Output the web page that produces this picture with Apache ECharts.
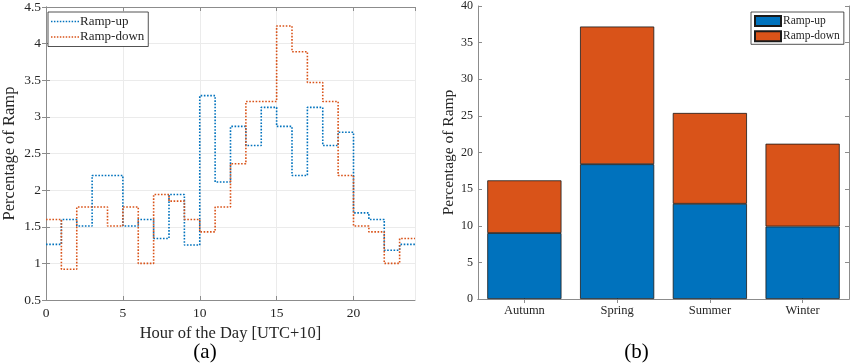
<!DOCTYPE html>
<html>
<head>
<meta charset="utf-8">
<script src="https://cdn.jsdelivr.net/npm/echarts@6/dist/echarts.min.js"></script>
<style>
html,body{margin:0;padding:0;background:#fff;}
#chart{width:850px;height:364px;}
</style>
</head>
<body>
<div id="chart"></div>
<script>
// ---- Data: panel (a) hourly ramp percentages (hours 0..23) ----
const hours = [0,1,2,3,4,5,6,7,8,9,10,11,12,13,14,15,16,17,18,19,20,21,22,23];
const rampUpHourly = [1.26,1.60,1.51,2.20,2.20,1.51,1.60,1.34,1.94,1.25,3.29,2.11,2.87,2.61,3.13,2.87,2.20,3.13,2.61,2.79,1.69,1.60,1.18,1.26];
const rampDownHourly = [1.60,0.92,1.77,1.77,1.51,1.77,1.00,1.94,1.85,1.60,1.43,1.77,2.36,3.21,3.21,4.24,3.89,3.47,3.21,2.20,1.51,1.43,1.00,1.34];
const xTicks = [0,5,10,15,20];
const yTicksA = [0.5,1,1.5,2,2.5,3,3.5,4,4.5];

// ---- Data: panel (b) seasonal ramp percentages ----
const seasons = ['Autumn','Spring','Summer','Winter'];
const rampUpSeason = [9.0,18.4,13.0,9.9];
const rampDownSeason = [7.2,18.8,12.4,11.3];
const yTicksB = [0,5,10,15,20,25,30,35,40];

const BLUE = '#0072BD', RED = '#D95319';
const SERIF = '"Liberation Serif", "DejaVu Serif", serif';
const AXC = '#8c8c8c', TXT = '#262626';

// stairs: each hour value holds until the next hour; last value extended to hour 24
function stairs(vals){
  const d = hours.map((h,i)=>[h, vals[i]]);
  d.push([hours[hours.length-1]+1, vals[vals.length-1]]);
  return d;
}

// dotted-line legend icon
let dotPath = 'path://';
for (let i = 0; i < 10; i++) { dotPath += 'M' + (i*3) + ',0h1.5v1.5h-1.5z'; }

const chart = echarts.init(document.getElementById('chart'), null, {renderer:'canvas'});

const gridA = {left:41, top:6, width:374, height:294};
const gridB = {left:478, top:6, width:371, height:293};

const option = {
  animation:false,
  backgroundColor:'#fff',
  grid:[Object.assign({containLabel:false}, gridA), Object.assign({containLabel:false}, gridB)],
  xAxis:[
    { type:'value', gridIndex:0, min:0, max:24, interval:5, position:'bottom',
      axisLine:{show:true, lineStyle:{color:AXC, width:1}},
      axisTick:{show:true, inside:true, length:4, lineStyle:{color:AXC}},
      axisLabel:{show:true, color:TXT, fontFamily:SERIF, fontSize:13.5, margin:6, showMaxLabel:false,
        formatter:v=> xTicks.indexOf(v)>=0 ? String(v) : ''},
      splitLine:{show:true, lineStyle:{color:'#ebebeb', width:1}},
      name:'Hour of the Day [UTC+10]', nameLocation:'middle', nameGap:24,
      nameTextStyle:{color:TXT, fontFamily:SERIF, fontSize:16.5}
    },
    { type:'value', gridIndex:0, min:0, max:24, interval:5, position:'top',
      axisLine:{show:true, lineStyle:{color:AXC, width:1}},
      axisTick:{show:true, inside:true, length:4, lineStyle:{color:AXC}},
      axisLabel:{show:false}, splitLine:{show:false}
    },
    { type:'category', gridIndex:1, data:seasons, position:'bottom',
      axisLine:{show:true, lineStyle:{color:AXC, width:1}},
      axisTick:{show:true, inside:true, length:4, alignWithLabel:true, lineStyle:{color:AXC}},
      axisLabel:{color:TXT, fontFamily:SERIF, fontSize:12.5, margin:5},
      splitLine:{show:false}
    },
    { type:'category', gridIndex:1, data:seasons, position:'top',
      axisLine:{show:true, lineStyle:{color:AXC, width:1}},
      axisTick:{show:true, inside:true, length:4, alignWithLabel:true, lineStyle:{color:AXC}},
      axisLabel:{show:false}, splitLine:{show:false}
    }
  ],
  yAxis:[
    { type:'value', gridIndex:0, min:0.5, max:4.5, interval:0.5, position:'left',
      axisLine:{show:true, lineStyle:{color:AXC, width:1}},
      axisTick:{show:true, inside:true, length:4, lineStyle:{color:AXC}},
      axisLabel:{color:TXT, fontFamily:SERIF, fontSize:13.5, margin:5,
        formatter:v=> yTicksA.indexOf(v)>=0 ? String(v) : ''},
      splitLine:{show:true, lineStyle:{color:'#ebebeb', width:1}},
      name:'Percentage of Ramp', nameLocation:'middle', nameGap:28,
      nameTextStyle:{color:TXT, fontFamily:SERIF, fontSize:16.5}
    },
    { type:'value', gridIndex:0, min:0.5, max:4.5, interval:0.5, position:'right',
      axisLine:{show:true, lineStyle:{color:AXC, width:1}},
      axisTick:{show:true, inside:true, length:4, lineStyle:{color:AXC}},
      axisLabel:{show:false}, splitLine:{show:false}
    },
    { type:'value', gridIndex:1, min:0, max:40, interval:5, position:'left',
      axisLine:{show:true, lineStyle:{color:AXC, width:1}},
      axisTick:{show:true, inside:true, length:4, lineStyle:{color:AXC}},
      axisLabel:{color:TXT, fontFamily:SERIF, fontSize:12, margin:5,
        formatter:v=> yTicksB.indexOf(v)>=0 ? String(v) : ''},
      splitLine:{show:false},
      name:'Percentage of Ramp', nameLocation:'middle', nameGap:15,
      nameTextStyle:{color:TXT, fontFamily:SERIF, fontSize:15.5}
    },
    { type:'value', gridIndex:1, min:0, max:40, interval:5, position:'right',
      axisLine:{show:true, lineStyle:{color:AXC, width:1}},
      axisTick:{show:true, inside:true, length:4, lineStyle:{color:AXC}},
      axisLabel:{show:false}, splitLine:{show:false}
    }
  ],
  legend:[
    { left:48, top:12, orient:'vertical', padding:[3,4,3,3], itemGap:2.5,
      itemWidth:28, itemHeight:1.6, borderColor:'#262626', borderWidth:0.8, backgroundColor:'#fff',
      textStyle:{color:TXT, fontFamily:SERIF, fontSize:13, padding:[0,0,0,-4]},
      data:[{name:'Ramp-up', icon:dotPath},{name:'Ramp-down', icon:dotPath}]
    },
    { left:751, top:12, orient:'vertical', padding:[3,4,2,3], itemGap:3.3,
      itemWidth:26, itemHeight:10, borderColor:'#262626', borderWidth:0.8, backgroundColor:'#fff',
      textStyle:{color:TXT, fontFamily:SERIF, fontSize:11.5, padding:[0,0,0,-3]},
      formatter:n=>n.replace(' (b)',''),
      data:[{name:'Ramp-up (b)', icon:'rect'},{name:'Ramp-down (b)', icon:'rect'}]
    }
  ],
  graphic:[
    { type:'text', x:205, y:352, style:{text:'(a)', fill:'#000', font:'21px '+SERIF, textAlign:'center', textVerticalAlign:'middle'} },
    { type:'text', x:636.5, y:352, style:{text:'(b)', fill:'#000', font:'21px '+SERIF, textAlign:'center', textVerticalAlign:'middle'} }
  ],
  series:[
    { name:'Ramp-up', type:'line', xAxisIndex:0, yAxisIndex:0, step:'end', symbol:'none',
      data:stairs(rampUpHourly), color:BLUE,
      lineStyle:{color:BLUE, width:1.6, type:[1.6,1.6]} },
    { name:'Ramp-down', type:'line', xAxisIndex:0, yAxisIndex:0, step:'end', symbol:'none',
      data:stairs(rampDownHourly), color:RED,
      lineStyle:{color:RED, width:1.6, type:[1.6,1.6]} },
    { name:'Ramp-up (b)', type:'bar', xAxisIndex:2, yAxisIndex:2, stack:'s', barCategoryGap:'20%',
      data:rampUpSeason, itemStyle:{color:BLUE, borderColor:'#1a1a1a', borderWidth:0.8} },
    { name:'Ramp-down (b)', type:'bar', xAxisIndex:2, yAxisIndex:2, stack:'s', barCategoryGap:'20%',
      data:rampDownSeason, itemStyle:{color:RED, borderColor:'#1a1a1a', borderWidth:0.8} }
  ]
};
chart.setOption(option);
</script>
</body>
</html>
